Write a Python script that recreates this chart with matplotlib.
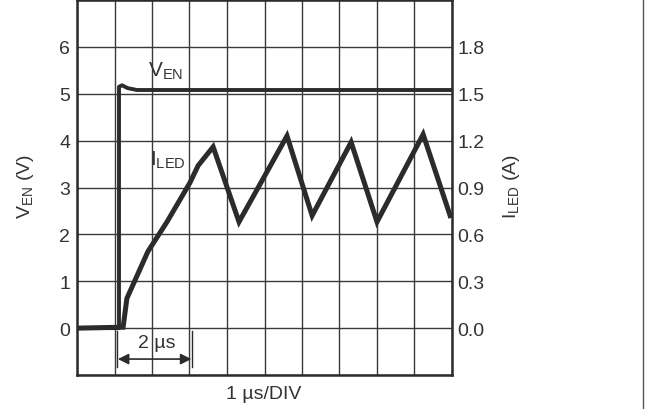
import matplotlib
matplotlib.use('Agg')
import matplotlib.pyplot as plt
from matplotlib.lines import Line2D

plt.rcParams['font.family'] = ['Liberation Sans', 'DejaVu Sans']
plt.rcParams['mathtext.default'] = 'regular'

# tiempo en us (1 us/DIV)
t_en = [0, 1.12, 1.12, 1.2, 1.35, 1.6, 2.0, 10.0]
v_en = [0, 0, 5.15, 5.18, 5.12, 5.08, 5.08, 5.08]

t_led = [0, 1.23, 1.33, 1.89, 2.40, 3.01, 3.23, 3.63, 4.32, 5.60, 6.27, 7.31, 8.00, 9.23, 9.95]
i_led = [0, 0.006, 0.19, 0.49, 0.68, 0.93, 1.04, 1.16, 0.68, 1.23, 0.72, 1.19, 0.68, 1.24, 0.72]

v_ticks = [0, 1, 2, 3, 4, 5, 6]
i_ticks = [0.0, 0.3, 0.6, 0.9, 1.2, 1.5, 1.8]

dark = '#2b2b2b'
txt = '#333333'
fs = 14

fig = plt.figure(figsize=(6.55, 4.1), dpi=100)
ax = fig.add_axes([77 / 655, 1 - 376 / 410, 375 / 655, 375 / 410])

ax.set_xlim(0, 10)
ax.set_ylim(-1, 7)
ax.set_xticks(range(0, 11))
ax.set_xticklabels([])
ax.set_yticks(range(-1, 8))
ax.set_yticklabels(['' if v not in v_ticks else str(v) for v in range(-1, 8)])
ax.grid(True, color='#3a3a3a', linewidth=1.0)
ax.tick_params(length=0, labelsize=fs, labelcolor=txt, pad=5)
for s in ax.spines.values():
    s.set_linewidth(1.8)
    s.set_color(dark)

ax.plot(t_led, [i / 0.3 for i in i_led], color=dark, linewidth=3.6, solid_joinstyle='miter')
ax.plot(t_en, v_en, color=dark, linewidth=2.8)

ax2 = ax.twinx()
ax2.set_ylim(-0.3, 2.1)
ax2.set_yticks(i_ticks)
ax2.set_yticklabels(['%.1f' % v for v in i_ticks])
ax2.tick_params(length=0, labelsize=fs, labelcolor=txt, pad=4)
for s in ax2.spines.values():
    s.set_visible(False)

fig.text(25 / 655, 1 - 187 / 410, 'V$_{EN}$ (V)', fontsize=fs, color=txt,
         rotation=90, ha='center', va='center')
fig.text(512 / 655, 1 - 187 / 410, 'I$_{LED}$ (A)', fontsize=fs, color=txt,
         rotation=90, ha='center', va='center')
fig.text(264 / 655, 1 - 395 / 410, '1 µs/DIV', fontsize=fs, color=txt, ha='center', va='center')

ax.text(1.9, 5.5, 'V$_{EN}$', fontsize=fs + 1, color=txt, va='center', ha='left')
ax.text(1.95, 3.6, 'I$_{LED}$', fontsize=fs + 1, color=txt, va='center', ha='left')

# marcador de 2 us
ax.plot([1.07, 1.07], [-0.07, -0.83], color=dark, linewidth=1.0)
ax.plot([3.07, 3.07], [-0.07, -0.83], color=dark, linewidth=1.0)
ax.annotate('', xy=(1.09, -0.66), xytext=(3.05, -0.66),
            arrowprops=dict(arrowstyle='<|-|>', color=dark, lw=1.2, mutation_scale=16, shrinkA=0, shrinkB=0))
ax.text(2.13, -0.3, '2 µs', fontsize=fs, color=txt, ha='center', va='center')

fig.add_artist(Line2D([643 / 655, 643 / 655], [0, 1], color='#555555', linewidth=1.0))

fig.savefig('out.png', dpi=100)
plt.close(fig)
